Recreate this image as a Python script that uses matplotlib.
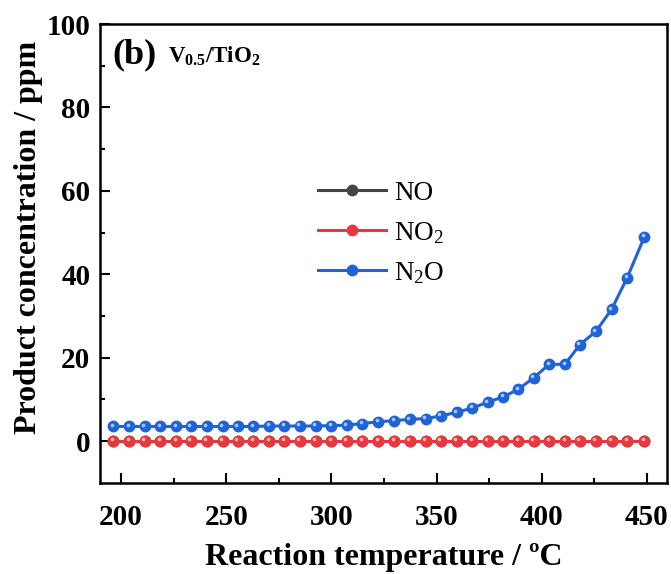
import matplotlib
matplotlib.use('Agg')
import matplotlib.pyplot as plt
from matplotlib.transforms import offset_copy

plt.rcParams['font.family'] = ['Liberation Serif', 'DejaVu Serif']
plt.rcParams['mathtext.fontset'] = 'custom'
plt.rcParams['mathtext.rm'] = 'Liberation Serif'
plt.rcParams['mathtext.bf'] = 'Liberation Serif:bold'
plt.rcParams['mathtext.it'] = 'Liberation Serif:italic'

# reaction temperatures (degC)
temps = [196.3, 203.8, 211.2, 218.5, 226.1, 233.2, 240.7, 248.3, 255.4,
         262.8, 270.3, 277.6, 285.0, 292.5, 299.8, 307.2, 314.6, 322.2,
         329.9, 337.3, 344.8, 352.0, 359.5, 366.9, 374.2, 381.7, 388.8,
         396.2, 403.5, 411.0, 418.1, 425.7, 433.2, 440.6, 448.7]

# product concentrations (ppm)
no = [0.0] * 35
no2 = [0.0] * 35
n2o = [3.5, 3.5, 3.5, 3.5, 3.5, 3.5, 3.5, 3.5, 3.5,
       3.5, 3.6, 3.6, 3.6, 3.6, 3.7, 3.8, 4.2, 4.6,
       4.9, 5.2, 5.4, 6.0, 6.9, 7.9, 9.3, 10.6, 12.4,
       15.2, 18.4, 18.4, 23.1, 26.3, 31.6, 39.2, 48.9]

series = [
    (no, 'NO', '#454545', '#9a9a9a'),
    (no2, r'NO$_\mathrm{2}$', '#e8383d', '#ffb3b5'),
    (n2o, r'N$_\mathrm{2}$O', '#1f63d6', '#a9c8ff'),
]

fig = plt.figure(figsize=(6.71, 5.74), dpi=100)
ax = fig.add_axes([0.149, 0.159, 0.845, 0.799])

# ball-style markers: solid dot plus a small highlight shifted up-left
shine = offset_copy(ax.transData, fig=fig, x=-1.0, y=1.2, units='points')
for vals, name, col, hi in series:
    ax.plot(temps, vals, '-', color=col, lw=2.2, marker='o', ms=7.5,
            mec=col, mfc=col, label=name)
    ax.plot(temps, vals, 'o', color=hi, ms=2.6, mec='none',
            transform=shine)

ax.set_xlim(190, 459.5)
ax.set_ylim(-10, 100)
ax.set_xticks([200, 250, 300, 350, 400, 450])
ax.set_xticks([225, 275, 325, 375, 425], minor=True)
ax.set_yticks([0, 20, 40, 60, 80, 100])
ax.set_yticks([10, 30, 50, 70, 90], minor=True)

ax.tick_params(which='both', direction='in', top=False, right=False, width=1.5)
ax.tick_params(which='major', length=7, labelsize=21)
ax.tick_params(axis='x', which='major', pad=15)
ax.tick_params(axis='y', which='major', pad=7)
ax.tick_params(which='minor', length=3.5)
for lab in ax.get_xticklabels() + ax.get_yticklabels():
    lab.set_fontweight('bold')
for sp in ax.spines.values():
    sp.set_linewidth(1.8)

ax.set_xlabel('Reaction temperature / ºC', fontsize=23, fontweight='bold',
              labelpad=9)
ax.set_ylabel('Product concentration / ppm', fontsize=23, fontweight='bold')
ax.yaxis.set_label_coords(-0.1, 0.535)

ax.text(0.022, 0.968, '(b)', transform=ax.transAxes, fontsize=26,
        fontweight='bold', va='top', ha='left')
ax.text(0.12, 0.955, r'V$_\mathbf{0.5}$/TiO$_\mathbf{2}$', transform=ax.transAxes,
        fontsize=16.5, fontweight='bold', va='top', ha='left')

ax.legend(loc='upper left', bbox_to_anchor=(0.385, 0.658), frameon=False,
          fontsize=19.5, handlelength=2.5, handletextpad=0.3, labelspacing=0.52,
          borderpad=0, borderaxespad=0)

fig.savefig('out.png', dpi=100)
